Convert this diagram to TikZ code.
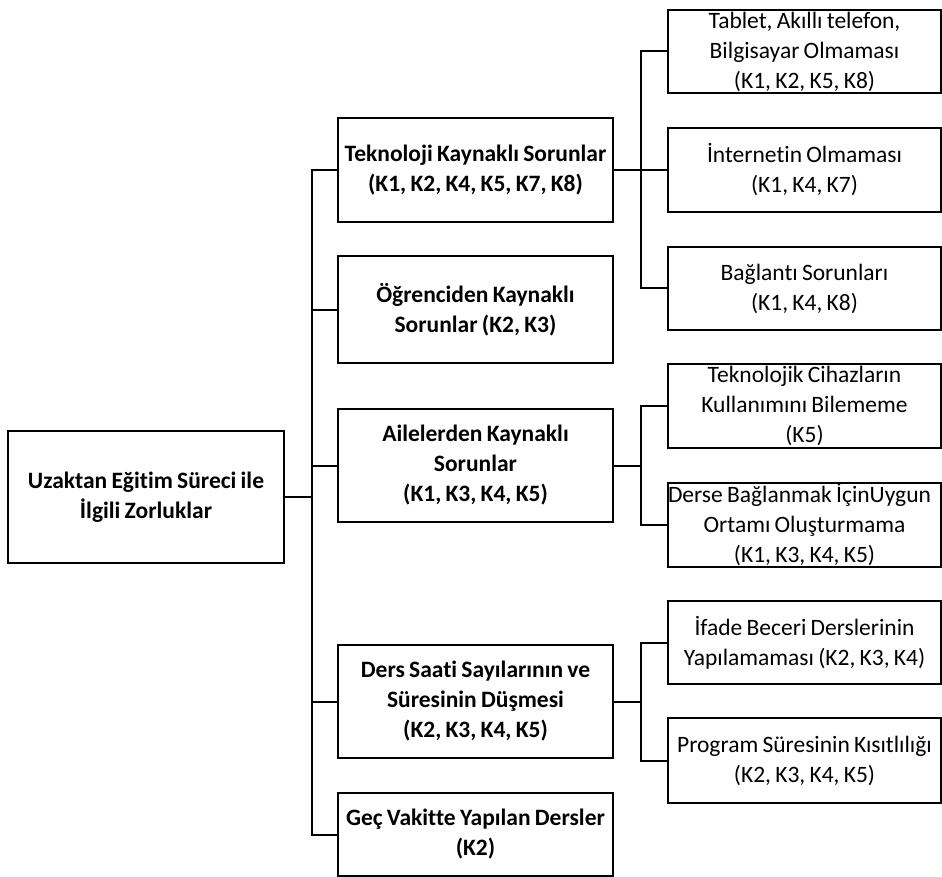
\documentclass[tikz,border=0pt]{standalone}
\usepackage{fontspec}
\setmainfont{Carlito}[Ligatures=CommonOff, WordSpace=0.8]

\begin{document}
\begin{tikzpicture}[x=1pt, y=-1pt, line width=2pt,
  kutu/.style={draw, rectangle, inner sep=0pt, align=center, font=\fontsize{23.5}{30}\selectfont},
  anakutu/.style={kutu, minimum width=275pt, font=\bfseries\fontsize{23.5}{30}\selectfont},
  altkutu/.style={kutu, minimum width=273pt}]
\useasboundingbox (0,0) rectangle (942,877);
\node [anakutu, minimum width=276pt, minimum height=132pt] (uzaktan) at (146,497) {Uzaktan Eğitim Süreci ile\\İlgili Zorluklar};
\node [anakutu, minimum height=104pt] (tekno) at (475.5,170) {Teknoloji Kaynaklı Sorunlar\\(K1, K2, K4, K5, K7, K8)};
\node [anakutu, minimum height=107pt] (ogrenci) at (475.5,309.5) {Öğrenciden Kaynaklı\\Sorunlar (K2, K3)};
\node [anakutu, minimum height=113pt] (aile) at (475.5,465.5) {Ailelerden Kaynaklı\\Sorunlar\\(K1, K3, K4, K5)};
\node [anakutu, minimum height=113pt] (saat) at (475.5,701.5) {Ders Saati Sayılarının ve\\Süresinin Düşmesi\\(K2, K3, K4, K5)};
\node [anakutu, minimum height=83pt] (gec) at (475.5,834.5) {Geç Vakitte Yapılan Dersler\\(K2)};
\node [altkutu, minimum height=83pt] (tablet) at (804.5,51.5) {Tablet, Akıllı telefon,\\Bilgisayar Olmaması\\(K1, K2, K5, K8)};
\node [altkutu, minimum height=84pt] (internet) at (804.5,170) {İnternetin Olmaması\\(K1, K4, K7)};
\node [altkutu, minimum height=83pt] (baglanti) at (804.5,288.5) {Bağlantı Sorunları\\(K1, K4, K8)};
\node [altkutu, minimum height=84pt] (cihaz) at (804.5,406) {Teknolojik Cihazların\\Kullanımını Bilememe\\(K5)};
\node [altkutu, minimum height=84pt] (ortam) at (804.5,525) {\makebox[273pt][l]{Derse Bağlanmak İçinUygun}\\Ortamı Oluşturmama\\(K1, K3, K4, K5)};
\node [altkutu, minimum height=83pt] (ifade) at (804.5,642.5) {İfade Beceri Derslerinin\\Yapılamaması (K2, K3, K4)};
\node [altkutu, minimum height=85pt] (program) at (804.5,760.5) {Program Süresinin Kısıtlılığı\\(K2, K3, K4, K5)};
\coordinate (govde) at (312,497);
\coordinate (dal1) at (641,170);
\coordinate (dal2) at (641,465.5);
\coordinate (dal3) at (641,701.5);
\draw (uzaktan.east) -- (govde);
\foreach \n in {tekno,ogrenci,aile,saat,gec}
  \draw (govde) |- (\n.west);
\draw (tekno.east) -- (dal1);
\foreach \n in {tablet,internet,baglanti}
  \draw (dal1) |- (\n.west);
\draw (aile.east) -- (dal2);
\foreach \n in {cihaz,ortam}
  \draw (dal2) |- (\n.west);
\draw (saat.east) -- (dal3);
\foreach \n in {ifade,program}
  \draw (dal3) |- (\n.west);
\end{tikzpicture}
\end{document}
